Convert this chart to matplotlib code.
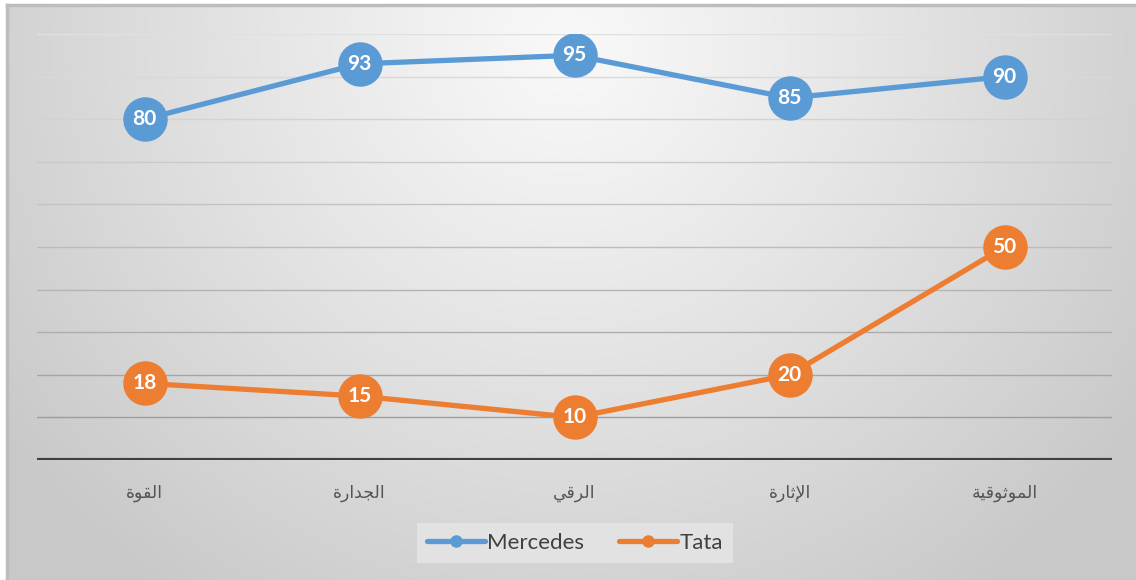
import matplotlib
matplotlib.use("Agg")
import matplotlib.pyplot as plt
import numpy as np
from matplotlib.lines import Line2D

# البيانات
categories = ['القوة', 'الجدارة', 'الرقي', 'الإثارة', 'الموثوقية']
mercedes = [80, 93, 95, 85, 90]
tata = [18, 15, 10, 20, 50]
series_names = ['Mercedes', 'Tata']
colors = ['#5b9bd5', '#ed7d31']

# matplotlib لا يشكّل الحروف العربية، لذا نختار أشكال العرض يدوياً
FORMS = {
    'ا': ('\ufe8d', '\ufe8e', None, None),
    'إ': ('\ufe87', '\ufe88', None, None),
    'ة': ('\ufe93', '\ufe94', None, None),
    'ث': ('\ufe99', '\ufe9a', '\ufe9b', '\ufe9c'),
    'ج': ('\ufe9d', '\ufe9e', '\ufe9f', '\ufea0'),
    'د': ('\ufea9', '\ufeaa', None, None),
    'ر': ('\ufead', '\ufeae', None, None),
    'ق': ('\ufed5', '\ufed6', '\ufed7', '\ufed8'),
    'ل': ('\ufedd', '\ufede', '\ufedf', '\ufee0'),
    'م': ('\ufee1', '\ufee2', '\ufee3', '\ufee4'),
    'و': ('\ufeed', '\ufeee', None, None),
    'ي': ('\ufef1', '\ufef2', '\ufef3', '\ufef4'),
}
LAM_ALEF = {'ا': ('\ufefb', '\ufefc'), 'إ': ('\ufef9', '\ufefa')}


def shape(word):
    out = []
    i = 0
    prev_joins = False
    while i < len(word):
        ch = word[i]
        if ch == 'ل' and i + 1 < len(word) and word[i + 1] in LAM_ALEF:
            iso, fin = LAM_ALEF[word[i + 1]]
            out.append(fin if prev_joins else iso)
            prev_joins = False
            i += 2
            continue
        iso, fin, ini, med = FORMS[ch]
        has_next = i + 1 < len(word)
        dual = ini is not None
        if prev_joins and dual and has_next:
            out.append(med)
        elif prev_joins:
            out.append(fin)
        elif dual and has_next:
            out.append(ini)
        else:
            out.append(iso)
        prev_joins = dual
        i += 1
    return ''.join(reversed(out))


W, H = 1136, 580
fig = plt.figure(figsize=(W / 100, H / 100), dpi=100)
fig.patch.set_facecolor('white')

# خلفية متدرجة
bg = fig.add_axes([7 / W, 0, 1 - 7 / W, 575 / H])
yy, xx = np.mgrid[0:575, 0:W - 7]
d = np.sqrt(((xx - 560) / 700.0) ** 2 + ((yy - 40) / 680.0) ** 2)
d = np.clip(d, 0, 1)
shade = 0.975 - 0.19 * d ** 1.1
bg.imshow(np.dstack([shade] * 3), aspect='auto', interpolation='bilinear')
bg.set_xticks([])
bg.set_yticks([])
for s in ['right', 'bottom']:
    bg.spines[s].set_visible(False)
for s in ['top', 'left']:
    bg.spines[s].set_color('#bdbdbd')
    bg.spines[s].set_linewidth(2.5)

ax = fig.add_axes([37 / W, 120 / H, 1075 / W, 426 / H])
ax.set_facecolor('none')
ax.set_xlim(-0.5, len(categories) - 0.5)
ax.set_ylim(0, 100)
for s in ax.spines.values():
    s.set_visible(False)

# خطوط الشبكة
for v in range(10, 101, 10):
    g = 0.62 + 0.26 * (v - 10) / 90
    ax.axhline(v, color=(g, g, g), linewidth=1.0, zorder=1)
ax.axhline(0, color='#404040', linewidth=3.0, zorder=2)

x = np.arange(len(categories))
for vals, c in zip([mercedes, tata], colors):
    ax.plot(x, vals, color=c, linewidth=3.8, marker='o', markersize=31,
            markerfacecolor=c, markeredgecolor=c, zorder=3,
            solid_capstyle='round')
    for xi, v in zip(x, vals):
        ax.text(xi, v, str(v), ha='center', va='center', color='white',
                fontsize=15, fontweight='bold', family=['Lato', 'DejaVu Sans'],
                zorder=4)

ax.set_yticks([])
ax.set_xticks(x)
ax.set_xticklabels([shape(c) for c in categories], family=['DejaVu Sans'],
                   fontsize=12.5, color='#545454')
ax.tick_params(axis='x', length=0, pad=17)

handles = [Line2D([0], [0], color=c, linewidth=3.8, marker='o', markersize=8,
                  solid_capstyle='round') for c in colors]
leg = fig.legend(handles, series_names, loc='center', bbox_to_anchor=(0.506, 0.064),
                 ncol=2, frameon=True, fancybox=False,
                 handlelength=2.6, handletextpad=0.1, columnspacing=1.6,
                 borderpad=0.45, prop={'family': ['Lato', 'DejaVu Sans'], 'size': 16})
leg.get_frame().set_facecolor('#e6e6e6')
leg.get_frame().set_edgecolor('none')
for t in leg.get_texts():
    t.set_color('#404040')

fig.savefig('out.png', dpi=100)
